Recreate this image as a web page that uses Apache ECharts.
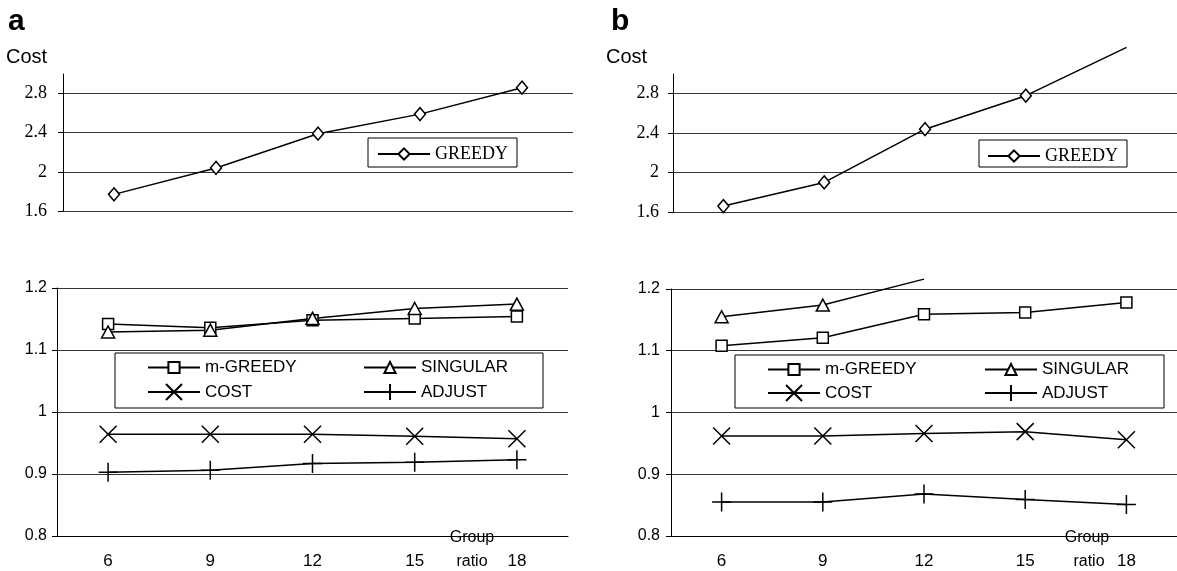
<!DOCTYPE html>
<html>
<head>
<meta charset="utf-8">
<script src="https://cdn.jsdelivr.net/npm/echarts@6/dist/echarts.min.js"></script>
<style>
html, body { margin: 0; padding: 0; background: #fff; }
#chart { width: 1177px; height: 571px; }
</style>
</head>
<body>
<div id="chart"></div>
<script>
const groupRatio = ["6", "9", "12", "15", "18"];

// panel a
const greedyA = [1.77, 2.04, 2.39, 2.59, 2.86];
const mGreedyA = [1.142, 1.136, 1.148, 1.151, 1.154];
const singularA = [1.129, 1.132, 1.151, 1.167, 1.174];
const costA = [0.964, 0.964, 0.964, 0.961, 0.957];
const adjustA = [0.903, 0.906, 0.917, 0.919, 0.923];

// panel b
const greedyB = [1.66, 1.9, 2.44, 2.78, 3.27];
const mGreedyB = [1.108, 1.121, 1.159, 1.162, 1.178];
const singularB = [1.155, 1.174, 1.216, null, null];
const costB = [0.962, 0.962, 0.966, 0.969, 0.956];
const adjustB = [0.855, 0.855, 0.868, 0.859, 0.851];

const X_PATH = "path://M0,0L10,10M10,0L0,10";
const PLUS_PATH = "path://M5,0L5,10M0,5L10,5";
const GRID_COLOR = "#333";

// points above the visible range keep the line but lose the marker
function offScale(arr, max) {
  return arr.map(function (v) {
    return v != null && v > max ? { value: v, symbol: "none" } : v;
  });
}

function lineSeries(name, data, idx, symbol, size) {
  return {
    type: "line",
    name: name,
    data: data,
    xAxisIndex: idx,
    yAxisIndex: idx,
    symbol: symbol,
    symbolSize: size,
    clip: false,
    connectNulls: false,
    lineStyle: { color: "#000", width: 1.5 },
    itemStyle: { color: "#fff", borderColor: "#000", borderWidth: 1.5 },
    emphasis: { disabled: true },
  };
}

function catAxis(idx, show) {
  return {
    type: "category",
    gridIndex: idx,
    data: groupRatio,
    show: show,
    axisLine: { lineStyle: { color: "#000", width: 1 } },
    axisTick: { length: 5, lineStyle: { color: "#000" } },
    axisLabel: { fontFamily: "Arial", fontSize: 17, color: "#000", margin: 17 },
  };
}

function upperY(idx, margin) {
  return {
    type: "value",
    gridIndex: idx,
    min: 1.6,
    max: 3.0,
    interval: 0.4,
    axisLine: { show: true, lineStyle: { color: "#000", width: 1 } },
    axisTick: { show: true, length: 5, lineStyle: { color: "#000" } },
    axisLabel: {
      fontFamily: "Times New Roman",
      fontSize: 18,
      color: "#000",
      margin: margin,
      showMaxLabel: false,
    },
    splitLine: { show: true, showMaxLine: false, lineStyle: { color: GRID_COLOR, width: 1.2 } },
  };
}

function lowerY(idx, margin) {
  return {
    type: "value",
    gridIndex: idx,
    min: 0.8,
    max: 1.2,
    interval: 0.1,
    axisLine: { show: true, lineStyle: { color: "#000", width: 1 } },
    axisTick: { show: true, length: 5, lineStyle: { color: "#000" } },
    axisLabel: { fontFamily: "Arial", fontSize: 16, color: "#000", margin: margin },
    splitLine: { show: true, lineStyle: { color: GRID_COLOR, width: 1.2 } },
  };
}

function legendItem(name, left, top, h, serif) {
  return {
    data: [name],
    left: left,
    top: top,
    padding: 0,
    selectedMode: false,
    itemWidth: 52,
    itemHeight: h,
    textStyle: {
      fontFamily: serif ? "Times New Roman" : "Arial",
      fontSize: serif ? 18 : 17,
      color: "#000",
    },
  };
}

function box(x, y, w, h) {
  return {
    type: "rect",
    shape: { x: x, y: y, width: w, height: h },
    style: { fill: "rgba(0,0,0,0)", stroke: "#000", lineWidth: 1 },
  };
}

function label(text, x, y, font, align) {
  return {
    type: "text",
    style: { text: text, x: x, y: y, font: font, fill: "#000", align: align || "left", verticalAlign: "middle" },
  };
}

const option = {
  animation: false,
  backgroundColor: "#fff",
  grid: [
    { left: 63, top: 74, width: 510, height: 137 },
    { left: 57, top: 288, width: 511, height: 248 },
    { left: 673, top: 74, width: 510, height: 138 },
    { left: 671, top: 289, width: 510, height: 247 },
  ],
  xAxis: [catAxis(0, false), catAxis(1, true), catAxis(2, false), catAxis(3, true)],
  yAxis: [upperY(0, 16), lowerY(1, 10), upperY(2, 14), lowerY(3, 11)],
  legend: [
    legendItem("GREEDY", 377, 145, 14, true),
    legendItem("GREEDY", 987, 147, 14, true),
    legendItem("m-GREEDY", 147, 359, 14),
    legendItem("SINGULAR", 363, 359, 14),
    legendItem("COST", 147, 383, 20),
    legendItem("ADJUST", 363, 383, 20),
    legendItem("m-GREEDY", 767, 361, 14),
    legendItem("SINGULAR", 984, 361, 14),
    legendItem("COST", 767, 384, 20),
    legendItem("ADJUST", 984, 384, 20),
  ],
  graphic: [
    box(368, 138, 149, 29),
    box(979, 140, 148, 27),
    box(115, 353, 428, 55),
    box(735, 355, 429, 53),
    label("a", 8, 22, "bold 30px Arial"),
    label("b", 611, 22, "bold 30px Arial"),
    label("Cost", 6, 57, "20px Arial"),
    label("Cost", 606, 57, "20px Arial"),
    label("Group", 472, 538, "16px Arial", "center"),
    label("ratio", 472, 562, "16px Arial", "center"),
    label("Group", 1087, 538, "16px Arial", "center"),
    label("ratio", 1089, 562, "16px Arial", "center"),
  ],
  series: [
    lineSeries("GREEDY", offScale(greedyA, 3), 0, "diamond", [11, 13]),
    lineSeries("m-GREEDY", mGreedyA, 1, "rect", 11),
    lineSeries("SINGULAR", singularA, 1, "triangle", [13, 12]),
    lineSeries("COST", costA, 1, X_PATH, 17),
    lineSeries("ADJUST", adjustA, 1, PLUS_PATH, 19),
    lineSeries("GREEDY", offScale(greedyB, 3), 2, "diamond", [11, 13]),
    lineSeries("m-GREEDY", mGreedyB, 3, "rect", 11),
    lineSeries("SINGULAR", offScale(singularB, 1.2), 3, "triangle", [13, 12]),
    lineSeries("COST", costB, 3, X_PATH, 17),
    lineSeries("ADJUST", adjustB, 3, PLUS_PATH, 19),
  ],
};

const myChart = echarts.init(document.getElementById("chart"));
myChart.setOption(option);
</script>
</body>
</html>
